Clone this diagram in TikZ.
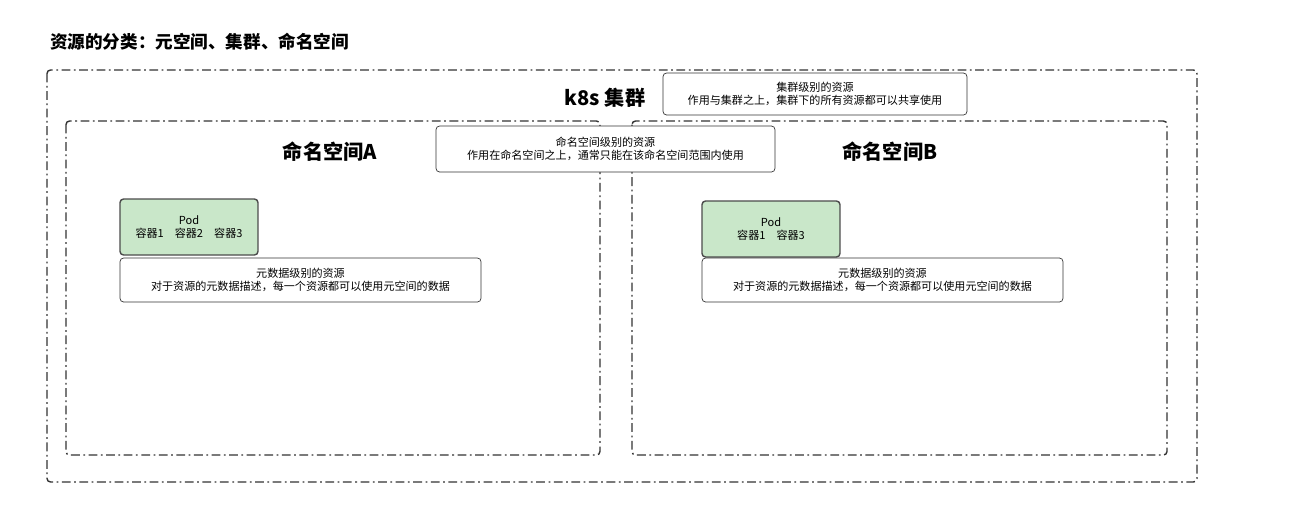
\documentclass[tikz,border=0pt]{standalone}
\usepackage{fontspec}
\setmainfont{Noto Sans CJK SC}
\usetikzlibrary{positioning}
\definecolor{podfill}{HTML}{C9E7C9}
\tikzset{
  frame/.style={draw=black!80, dash pattern=on 5pt off 2pt on 1pt off 2pt,
    rounded corners=2pt, thick},
  notebox/.style={draw=black!80, rounded corners=2pt, fill=white,
    font=\fontsize{6.3}{7}\selectfont, align=center, inner sep=0pt},
  podbox/.style={notebox, fill=podfill, draw=black!70, thick},
  biglabel/.style={font=\bfseries\fontsize{11.5}{13}\selectfont}
}
\begin{document}
\begin{tikzpicture}[x=0.02cm,y=-0.02cm]
  \useasboundingbox (0,0) rectangle (1295,511);
  \node[anchor=west, font=\bfseries\fontsize{10}{12}\selectfont] (title) at (44,42)
    {资源的分类：元空间、集群、命名空间};

  % frames
  \draw[frame] (47,70) rectangle (1197,482);
  \draw[frame] (66,121) rectangle (600,455);
  \draw[frame] (632,121) rectangle (1167,455);

  \node[biglabel] (k8s) at (605,98) {k8s 集群};
  \node[biglabel] (nsA) at (330,152) {命名空间A};
  \node[biglabel] (nsB) at (890,152) {命名空间B};

  % notes
  \node[notebox, minimum width=6.08cm, minimum height=0.84cm] (cluster) at (815,94)
    {集群级别的资源\\作用与集群之上，集群下的所有资源都可以共享使用};
  \node[notebox, minimum width=6.78cm, minimum height=0.92cm] (nsnote) at (605.5,149)
    {命名空间级别的资源\\作用在命名空间之上，通常只能在该命名空间范围内使用};

  % namespace A
  \node[podbox, minimum width=2.76cm, minimum height=1.12cm] (podA) at (189,227)
    {Pod\\容器1\quad 容器2\quad 容器3};
  \node[notebox, minimum width=7.22cm, minimum height=0.88cm] (metaA) at (300.5,280)
    {元数据级别的资源\\对于资源的元数据描述，每一个资源都可以使用元空间的数据};

  % namespace B
  \node[podbox, minimum width=2.76cm, minimum height=1.12cm] (podB) at (771,229)
    {Pod\\容器1\quad 容器3};
  \node[notebox, minimum width=7.22cm, minimum height=0.88cm] (metaB) at (882.5,280)
    {元数据级别的资源\\对于资源的元数据描述，每一个资源都可以使用元空间的数据};
\end{tikzpicture}
\end{document}
